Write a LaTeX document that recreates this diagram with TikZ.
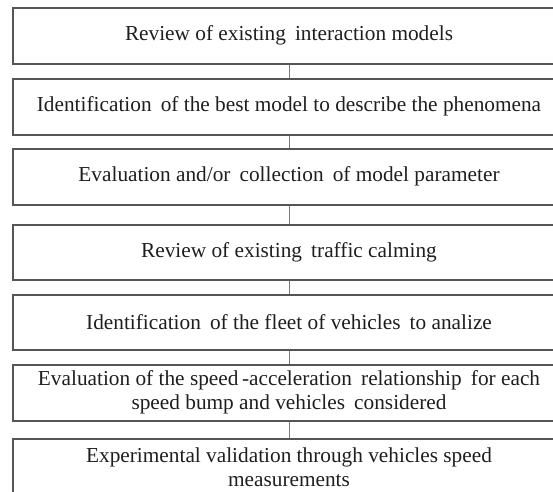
\documentclass[tikz,border=0pt]{standalone}
\usepackage{fontspec}
\setmainfont{Liberation Serif}
\definecolor{boxline}{HTML}{555555}
\definecolor{linkline}{HTML}{7A7A7A}
\definecolor{txt}{HTML}{1E1E1E}
\newcommand{\gap}{\hspace{0.18em}}
\begin{document}
\begin{tikzpicture}[x=1pt,y=1pt,
  stepbox/.style={draw=boxline, line width=1.5pt, minimum width=552pt, inner sep=0pt,
    align=center, text=txt, font=\fontsize{21.3}{24}\selectfont, anchor=north},
  link/.style={draw=linkline, line width=1pt}]
\useasboundingbox (0,0) rectangle (553,-491);
\clip (0,0) rectangle (553,-491);
\node[stepbox, minimum height=56pt] (b1) at (289,-7) {Review of existing\gap{} interaction models};
\node[stepbox, minimum height=56pt] (b2) at (289,-78) {Identification\gap{} of the best model to describe the phenomena};
\node[stepbox, minimum height=56pt] (b3) at (289,-148) {Evaluation and/or\gap{} collection\gap{} of model parameter};
\node[stepbox, minimum height=55pt] (b4) at (289,-224) {Review of existing\gap{} traffic calming};
\node[stepbox, minimum height=55pt] (b5) at (289,-294) {Identification\gap{} of the fleet of vehicles\gap{} to analize};
\node[stepbox, minimum height=56pt] (b6) at (289,-364) {Evaluation of the speed\,-acceleration\gap{} relationship\gap{} for each\\speed bump and vehicles\gap{} considered};
\node[stepbox, minimum height=56pt] (b7) at (289,-438) {Experimental validation through vehicles speed\\measurements};
\draw[link] (b1.south) -- (b2.north);
\draw[link] (b2.south) -- (b3.north);
\draw[link] (b3.south) -- (b4.north);
\draw[link] (b4.south) -- (b5.north);
\draw[link] (b5.south) -- (b6.north);
\draw[link] (b6.south) -- (b7.north);
\end{tikzpicture}
\end{document}
